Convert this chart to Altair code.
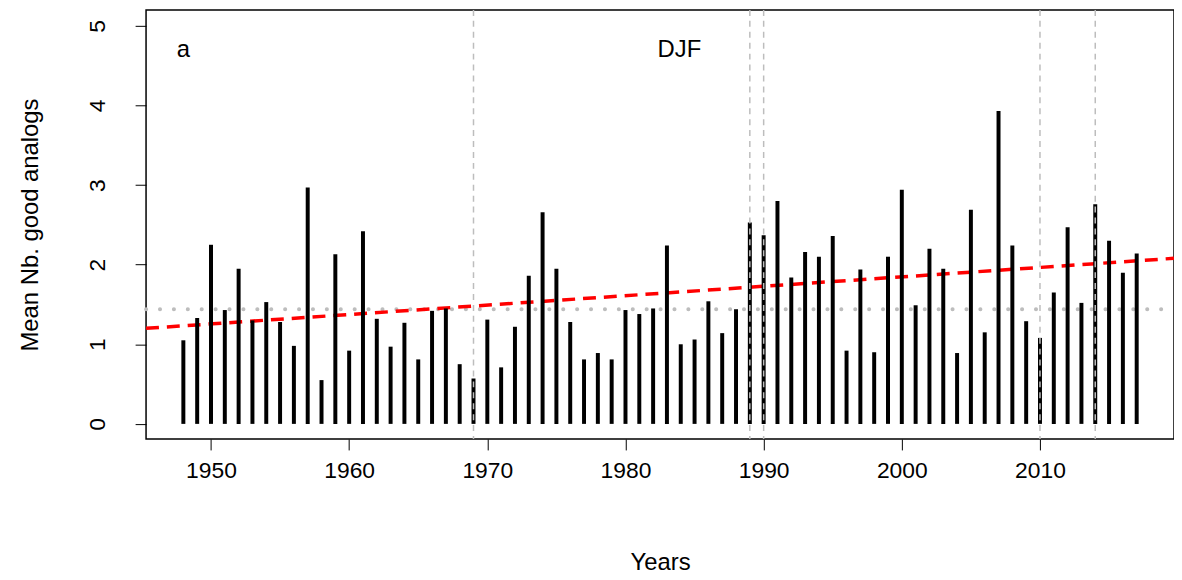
import altair as alt
import pandas as pd

years = list(range(1948, 2018))
values = [1.05, 1.33, 2.25, 1.43, 1.95, 1.30, 1.53, 1.28, 0.98, 2.97,
          0.55, 2.13, 0.92, 2.42, 1.32, 0.97, 1.27, 0.81, 1.42, 1.45,
          0.75, 0.57, 1.31, 0.71, 1.22, 1.86, 2.66, 1.95, 1.28, 0.81,
          0.89, 0.81, 1.43, 1.38, 1.45, 2.24, 1.00, 1.06, 1.54, 1.14,
          1.44, 2.53, 2.37, 2.80, 1.84, 2.16, 2.10, 2.36, 0.92, 1.94,
          0.90, 2.10, 2.94, 1.49, 2.20, 1.95, 0.89, 2.69, 1.15, 3.93,
          2.24, 1.29, 1.08, 1.65, 2.47, 1.52, 2.76, 2.30, 1.90, 2.14]
mean_value = 1.44
trend_x = [1945.3, 2019.7]
trend_y = [1.20, 2.08]
break_years = [1969, 1989, 1990, 2010, 2014]
xmin, xmax = 1945.3, 2019.7

df = pd.DataFrame({"year": years, "value": values})
x = alt.X("year:Q", scale=alt.Scale(domain=[xmin, xmax], nice=False, zero=False),
          axis=alt.Axis(values=[1950, 1960, 1970, 1980, 1990, 2000, 2010], title="Years",
                        format="d", grid=False, domain=False, tickColor="black", tickSize=11,
                        labelFontSize=23, titleFontSize=24, labelPadding=10, titlePadding=68,
                        labelColor="black", titleColor="black", titleFontWeight="normal",
                        labelFont="Liberation Sans", titleFont="Liberation Sans"))
y = alt.Y("value:Q", scale=alt.Scale(domain=[-0.19, 5.2], nice=False, zero=False),
          axis=alt.Axis(values=[0, 1, 2, 3, 4, 5], title="Mean Nb. good analogs",
                        format="d", grid=False, domain=False, tickColor="black", tickSize=11,
                        labelAngle=270, labelAlign="center", labelBaseline="bottom",
                        labelFontSize=23, titleFontSize=24, labelPadding=26, titlePadding=44,
                        labelColor="black", titleColor="black", titleFontWeight="normal",
                        labelFont="Liberation Sans", titleFont="Liberation Sans"))

bars = alt.Chart(df).mark_rule(color="black", strokeWidth=4).encode(
    x=x, y=y, y2=alt.datum(0))

mean_line = alt.Chart(pd.DataFrame({"year": [xmin, xmax], "value": [mean_value] * 2})).mark_line(
    color="#bdbdbd", strokeWidth=4, strokeDash=[0.1, 13.9], strokeCap="round").encode(x=x, y=y)

vlines = alt.Chart(pd.DataFrame({"year": break_years})).mark_rule(
    color="#bdbdbd", strokeWidth=1.5, strokeDash=[6, 5]).encode(x=x)

trend = alt.Chart(pd.DataFrame({"year": trend_x, "value": trend_y})).mark_line(
    color="red", strokeWidth=3.5, strokeDash=[13, 8]).encode(x=x, y=y)

labels = alt.Chart(pd.DataFrame({"year": [1948.0, 1983.9], "value": [4.7, 4.7], "t": ["a", "DJF"]})).mark_text(
    fontSize=24, font="Liberation Sans", color="black", align="center").encode(x=x, y=y, text="t:N")

chart = alt.layer(mean_line, trend, bars, vlines, labels).properties(
    width=1035, height=432,
    background="white",
    autosize=alt.AutoSizeParams(type="none"),
    padding={"left": 139, "top": 0, "right": 0, "bottom": 140},
).configure_view(stroke="black", strokeWidth=1.5)

chart.save("out.html", embed_options={"renderer": "svg", "actions": False})
